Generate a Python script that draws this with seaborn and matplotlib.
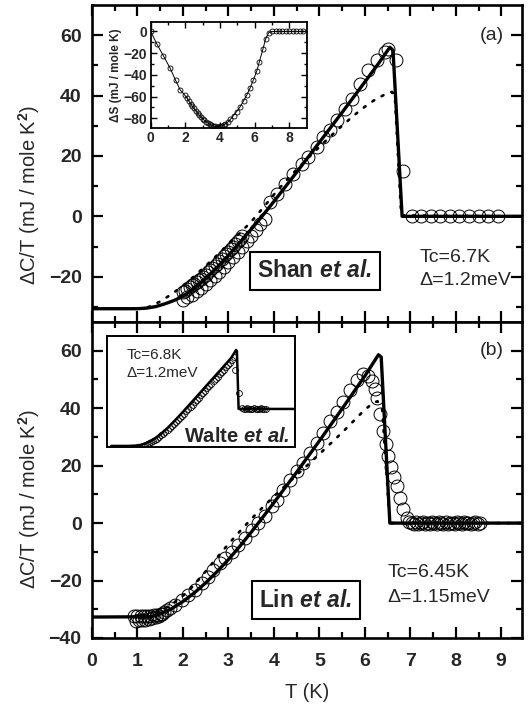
import numpy as np
import pandas as pd
import matplotlib
matplotlib.use("Agg")
import matplotlib.pyplot as plt
import seaborn as sns

# ---------------- panel (a): Shan et al. ----------------
a_fit_T = [0, 1.0, 1.2, 1.4, 1.6, 1.8, 2.0, 2.25, 2.5, 2.75, 3.0, 3.25, 3.5, 3.75,
           4.0, 4.5, 5.0, 5.5, 6.0, 6.3, 6.55, 6.62, 6.82, 9.6]
a_fit_C = [-30.6, -30.6, -30.4, -29.9, -29.0, -27.9, -26.5, -23.8, -20.6, -16.9, -13.0,
           -8.7, -4.3, 0.2, 4.9, 14.6, 24.5, 34.4, 44.5, 50.6, 56.0, 55.0, 0.0, 0.0]

a_bcs_T = [1.0, 1.25, 1.5, 1.75, 2.0, 2.25, 2.5, 2.75, 3.0, 3.25, 3.5, 3.75, 4.0, 4.25,
           4.5, 4.75, 5.0, 5.25, 5.5, 5.75, 6.0, 6.25, 6.5, 6.6, 6.66, 6.8, 9.6]
a_bcs_C = [-30.6, -30.0, -28.2, -25.8, -23.0, -19.8, -16.4, -12.9, -9.2, -5.6, -1.8, 2.6,
           7.2, 11.5, 15.5, 19.3, 23.0, 26.6, 30.0, 33.3, 36.3, 38.9, 40.8, 41.2, 40.0, 0.3, 0.0]

a_dat_T = [2.00, 2.05, 2.10, 2.15, 2.20, 2.25, 2.30, 2.35, 2.40, 2.45, 2.50, 2.55, 2.60,
           2.65, 2.70, 2.75, 2.80, 2.85, 2.90, 2.95, 3.00, 3.05, 3.10, 3.15, 3.20, 3.25, 3.30,
           2.0, 2.1, 2.2, 2.3, 2.4, 2.5, 2.6, 2.7, 2.8, 2.9, 3.0, 3.1, 3.2, 3.3, 3.4, 3.5,
           3.6, 3.7, 3.8,
           3.91, 4.06, 4.24, 4.43, 4.61, 4.75, 4.94, 5.08, 5.23, 5.38, 5.56, 5.71, 5.89,
           6.07, 6.26, 6.44, 6.52, 6.68, 6.83,
           7.03, 7.24, 7.45, 7.66, 7.87, 8.08, 8.29, 8.50, 8.71, 8.92]
a_dat_C = [-25.2, -24.6, -24.1, -23.5, -22.9, -22.4, -21.8, -21.2, -20.6, -20.0, -19.3,
           -18.6, -17.9, -17.2, -16.5, -15.7, -14.9, -14.1, -13.3, -12.5, -11.7, -10.8,
           -10.0, -9.1, -8.3, -7.4, -6.5,
           -27.6, -26.8, -25.9, -24.8, -23.7, -22.5, -21.2, -19.8, -18.3, -16.8, -15.2,
           -13.6, -11.9, -10.1, -8.3, -6.5, -4.6, -2.7, -0.8,
           4.7, 7.5, 10.8, 14.1, 17.4, 19.7, 23.0, 26.3, 28.5, 31.8, 35.7, 39.0, 43.9,
           48.4, 51.7, 54.4, 55.5, 51.8, 15.0,
           0.0, 0.0, 0.0, 0.0, 0.0, 0.0, 0.0, 0.0, 0.0, 0.0]

# entropy difference (inset of panel a)
dS_T = [0, 0.35, 0.73, 1.12, 1.44, 1.70, 1.95, 2.1, 2.2, 2.3, 2.4, 2.5, 2.6, 2.7, 2.8,
        2.9, 3.0, 3.1, 3.2, 3.3, 3.4, 3.5, 3.6, 3.7, 3.8, 3.9, 4.0, 4.1, 4.2, 4.3, 4.45,
        4.6, 4.78, 4.95, 5.16, 5.36, 5.55, 5.74, 5.93, 6.13, 6.26, 6.47, 6.63, 6.8, 7.0,
        7.2, 7.4, 7.6, 7.8, 8.0, 8.2, 8.4, 8.6, 8.8]
dS_S = [0, -11.4, -22.4, -33.8, -45.2, -53.8, -58.4, -61.5, -64.0, -66.5, -68.8, -71.0,
        -73.0, -75.0, -77.0, -78.8, -80.5, -82.0, -83.3, -84.5, -85.5, -86.4, -87.0,
        -87.5, -87.7, -87.7, -87.5, -87.0, -86.3, -85.4, -83.5, -81.0, -77.5, -74.0,
        -69.5, -64.0, -58.5, -52.0, -44.5, -36.0, -28.5, -16.5, -7.0, -1.2, 0, 0, 0, 0,
        0, 0, 0, 0, 0, 0]

# ---------------- panel (b): Lin et al. ----------------
b_fit_T = [0, 1.3, 1.5, 1.75, 2.0, 2.25, 2.5, 2.75, 3.0, 3.25, 3.5, 3.75, 4.0, 4.5,
           5.0, 5.5, 6.0, 6.3, 6.36, 6.55, 9.6]
b_fit_C = [-32.7, -32.6, -31.6, -29.8, -27.3, -24.3, -20.8, -16.9, -12.7, -8.1, -3.2,
           1.9, 7.1, 17.7, 28.6, 39.8, 51.2, 58.6, 57.8, 0.0, 0.0]

b_bcs_T = [1.2, 1.5, 1.75, 2.0, 2.25, 2.5, 2.75, 3.0, 3.25, 3.5, 3.75, 4.0, 4.5, 5.0,
           5.5, 5.75, 6.0, 6.2, 6.28, 6.38, 6.55, 9.6]
b_bcs_C = [-32.6, -30.6, -28.3, -25.3, -21.5, -16.8, -12.0, -7.3, -2.9, 1.4, 5.4, 9.3,
           16.7, 24.0, 31.5, 35.5, 39.5, 42.0, 42.4, 40.0, 0.0, 0.0]

b_dat_T = [0.92, 0.96, 1.00, 1.03, 1.07, 1.10, 1.14, 1.17, 1.21, 1.25, 1.28, 1.32, 1.36,
           1.40, 1.44, 1.47, 1.51, 1.55, 1.58, 1.65, 1.72, 1.83, 1.98, 2.12, 2.27, 2.42,
           2.56, 2.67, 2.82, 2.93, 3.08, 3.22, 3.37, 3.52, 3.66, 3.81, 3.96,
           4.06, 4.20, 4.35, 4.50, 4.65, 4.79, 4.94, 5.08, 5.23, 5.38, 5.52, 5.67, 5.82,
           5.96, 6.07, 6.15, 6.22, 6.27, 6.33, 6.40, 6.46, 6.52, 6.58, 6.64, 6.70, 6.77,
           6.84, 6.92,
           6.98, 7.03, 7.08, 7.13, 7.18, 7.23, 7.28, 7.33, 7.38, 7.43, 7.48, 7.53, 7.58,
           7.63, 7.68, 7.73, 7.78, 7.83, 7.88, 7.93, 7.98, 8.03, 8.08, 8.13, 8.18, 8.23,
           8.28, 8.33, 8.38, 8.43, 8.48, 8.53]
b_dat_C = [-32.5, -34.0, -32.2, -33.8, -32.4, -33.9, -32.5, -33.6, -32.3, -33.5, -32.2,
           -33.2, -32.0, -32.8, -31.9, -32.4, -31.5, -31.7, -30.9, -30.2, -29.6, -28.4,
           -26.7, -24.9, -23.2, -20.9, -18.6, -16.2, -13.9, -12.2, -9.9, -7.5, -5.2,
           -2.3, 0.0, 2.3, 5.8,
           8.1, 11.6, 15.1, 18.0, 20.9, 24.4, 27.8, 31.3, 35.4, 38.8, 42.3, 46.4, 49.8,
           51.8, 51.2, 49.4, 46.8, 43.4, 38.0, 32.0, 27.5, 23.2, 19.5, 16.0, 12.8, 8.6,
           5.0, 1.8,
           0.5, 0.2, -0.2, 0.3, -0.3, 0.1, 0.4, -0.2, 0.2, -0.4, 0.3, 0.0, -0.3, 0.4,
           0.1, -0.2, 0.3, -0.3, 0.2, 0.0, -0.4, 0.3, 0.1, -0.2, 0.4, -0.1, 0.2, -0.3,
           0.1, 0.3, -0.2, 0.0]

# Walte et al. (inset of panel b)
w_fit_T = [0.7, 1.5, 1.85, 2.1, 2.33, 2.6, 2.97, 3.4, 3.77, 4.17, 4.57, 4.97, 5.37,
           5.77, 6.16, 6.45, 6.68, 6.72, 6.80, 9.6]
w_fit_C = [-35.0, -35.0, -34.7, -34.0, -32.8, -30.3, -25.5, -18.0, -10.5, -2.0, 6.8,
           15.6, 24.5, 33.3, 42.0, 48.4, 55.8, 54.5, 0.0, 0.0]
w_dat_T = [2.2, 2.3, 2.4, 2.5, 2.6, 2.7, 2.8, 2.9, 3.0, 3.1, 3.2, 3.3, 3.4, 3.5, 3.6,
           3.7, 3.8, 3.9, 4.0, 4.1, 4.2, 4.3, 4.4, 4.5, 4.6, 4.7, 4.8, 4.9, 5.0, 5.1,
           5.2, 5.3, 5.4, 5.5, 5.6, 5.7, 5.8, 5.9, 6.0, 6.1, 6.2, 6.3, 6.4, 6.5, 6.58,
           6.64, 6.80,
           6.98, 7.06, 7.14, 7.22, 7.30, 7.38, 7.46, 7.54, 7.62, 7.70, 7.78, 7.86, 7.94,
           8.02, 8.10]
w_dat_C = [-35.0, -34.2, -33.5, -32.6, -31.7, -30.6, -29.4, -28.1, -26.6, -25.1, -23.5,
           -21.8, -20.1, -18.3, -16.5, -14.6, -12.6, -10.6, -8.6, -6.6, -4.5, -2.4, -0.3,
           1.9, 4.1, 6.3, 8.5, 10.7, 12.9, 15.1, 17.3, 19.5, 21.7, 23.9, 26.1, 28.3, 30.5,
           32.7, 34.9, 37.1, 39.3, 41.5, 43.6, 46.0, 49.5, 37.0, 14.8,
           0.8, 0.4, 0.0, 0.5, 0.1, 0.4, 0.0, 0.5, 0.1, 0.4, 0.0, 0.5, 0.1, 0.4, 0.0]

# ---------------- styling ----------------
sns.set_theme(style="ticks")
plt.rcParams["font.family"] = ["Liberation Sans", "DejaVu Sans"]
plt.rcParams["font.weight"] = "bold"
plt.rcParams["mathtext.fontset"] = "custom"
plt.rcParams["mathtext.rm"] = "Liberation Sans"
plt.rcParams["mathtext.it"] = "Liberation Sans:italic"
plt.rcParams["mathtext.bf"] = "Liberation Sans:bold"
plt.rcParams["mathtext.bfit"] = "Liberation Sans:italic:bold"

fig = plt.figure(figsize=(5.32, 7.08), dpi=100)
L, W = 92 / 532, (521.7 - 92) / 532
ax_a = fig.add_axes([L, 1 - 322 / 708, W, 317 / 708])
ax_b = fig.add_axes([L, 1 - 638 / 708, W, 316 / 708])

MS = 9.3
ylabel = "ΔC/T (mJ / mole K$^2$)"


def style_main(ax, ylim, yticks, show_x):
    ax.set_xlim(0, 9.45)
    ax.set_ylim(*ylim)
    ax.set_xticks(range(0, 10))
    ax.set_xticks(np.arange(0.5, 9.5, 1.0), minor=True)
    ax.set_yticks(yticks)
    ax.set_yticks(np.arange(yticks[0] - 10, ylim[1], 10.0), minor=True)
    ax.set_ylim(*ylim)
    for s in ax.spines.values():
        s.set_linewidth(1.9)
        s.set_color("black")
    ax.tick_params(which="both", direction="in", top=True, right=True,
                   color="black", width=1.6)
    ax.tick_params(which="major", length=8)
    ax.tick_params(which="minor", length=4.5)
    ax.tick_params(axis="both", labelsize=14)
    ax.tick_params(axis="y", pad=7.5)
    ax.tick_params(axis="x", pad=11)
    if not show_x:
        ax.tick_params(axis="x", labelbottom=False)
    ax.set_ylabel(ylabel, fontsize=14.5, fontweight="normal")
    ax.set_xlabel("")


def draw_panel(ax, fT, fC, bT, bC, dT, dC):
    sns.lineplot(x=dT, y=dC, ax=ax, estimator=None, sort=False, linestyle="none",
                 marker="o", markersize=MS, markerfacecolor="none",
                 markeredgecolor="black", markeredgewidth=0.7, color="black")
    sns.lineplot(x=bT, y=bC, ax=ax, estimator=None, sort=False, color="black",
                 linewidth=1.9, linestyle=(0, (0.8, 3.2)), dash_capstyle="round")
    sns.lineplot(x=fT, y=fC, ax=ax, estimator=None, sort=False, color="black",
                 linewidth=2.4)


draw_panel(ax_a, a_fit_T, a_fit_C, a_bcs_T, a_bcs_C, a_dat_T, a_dat_C)
draw_panel(ax_b, b_fit_T, b_fit_C, b_bcs_T, b_bcs_C, b_dat_T, b_dat_C)

style_main(ax_a, (-35, 70), [-20, 0, 20, 40, 60], False)
style_main(ax_b, (-40, 70), [-40, -20, 0, 20, 40, 60], True)
ax_a.yaxis.set_label_coords(-0.116, 0.40)
ax_b.yaxis.set_label_coords(-0.116, 0.44)
ax_b.set_xlabel("T (K)", fontsize=14.5, fontweight="normal", labelpad=9)

box = dict(boxstyle="square,pad=0.33", fc="white", ec="black", lw=1.5)
ax_a.text(4.9, -18.0, r"Shan $\mathbfit{et\ al.}$", fontsize=16.5, fontweight="bold",
          ha="center", va="center", bbox=box)
ax_a.text(7.2, -13.6, "Tc=6.7K", fontsize=14, fontweight="normal", ha="left", va="center")
ax_a.text(7.2, -21.3, "Δ=1.2meV", fontsize=14, fontweight="normal", ha="left", va="center")
ax_a.text(8.8, 60, "(a)", fontsize=14, fontweight="normal", ha="center", va="center")

ax_b.text(4.7, -26.8, r"Lin $\mathbfit{et\ al.}$", fontsize=16.5, fontweight="bold",
          ha="center", va="center", bbox=box)
ax_b.text(6.5, -17.3, "Tc=6.45K", fontsize=14, fontweight="normal", ha="left", va="center")
ax_b.text(6.5, -26.0, "Δ=1.15meV", fontsize=14, fontweight="normal", ha="left", va="center")
ax_b.text(8.8, 60, "(b)", fontsize=14, fontweight="normal", ha="center", va="center")

# inset: entropy difference
ins_a = fig.add_axes([150.7 / 532, 1 - 128 / 708, 156 / 532, 106.3 / 708])
sns.lineplot(x=dS_T, y=dS_S, ax=ins_a, estimator=None, sort=False, color="black",
             linewidth=0.7, marker="o", markersize=3.6, markerfacecolor="none",
             markeredgecolor="black", markeredgewidth=0.6)
ins_a.set_xlim(0, 9)
ins_a.set_ylim(-89, 9)
ins_a.set_xticks([0, 2, 4, 6, 8])
ins_a.set_xticks([1, 3, 5, 7], minor=True)
ins_a.set_yticks([-80, -60, -40, -20, 0])
ins_a.set_yticks([-70, -50, -30, -10], minor=True)
for s in ins_a.spines.values():
    s.set_linewidth(1.3)
    s.set_color("black")
ins_a.tick_params(which="both", direction="in", top=True, right=True, width=1.0,
                  color="black", labelsize=10, pad=2.5)
ins_a.tick_params(which="major", length=4)
ins_a.tick_params(which="minor", length=2)
ins_a.set_ylabel("ΔS (mJ / mole K)", fontsize=8.5, fontweight="bold", labelpad=1)
ins_a.set_xlabel("")

# inset: Walte et al.
ins_b = fig.add_axes([107 / 532, 1 - 447 / 708, 188 / 532, 111 / 708])
sns.lineplot(x=w_dat_T, y=w_dat_C, ax=ins_b, estimator=None, sort=False,
             linestyle="none", marker="o", markersize=4.2, markerfacecolor="none",
             markeredgecolor="black", markeredgewidth=0.6, color="black")
sns.lineplot(x=w_fit_T, y=w_fit_C, ax=ins_b, estimator=None, sort=False,
             color="black", linewidth=1.8)
ins_b.set_xlim(0.5, 9.5)
ins_b.set_ylim(-36, 69)
ins_b.set_xticks([])
ins_b.set_yticks([])
ins_b.set_xlabel("")
ins_b.set_ylabel("")
for s in ins_b.spines.values():
    s.set_linewidth(1.4)
    s.set_color("black")
ins_b.text(1.45, 51, "Tc=6.8K", fontsize=11, fontweight="normal", ha="left", va="center")
ins_b.text(1.45, 34, "Δ=1.2meV", fontsize=11, fontweight="normal", ha="left", va="center")
ins_b.text(9.25, -26.5, r"Walte $\mathbfit{et\ al.}$", fontsize=14.5,
           fontweight="bold", ha="right", va="center")

fig.savefig("out.png", dpi=100)
